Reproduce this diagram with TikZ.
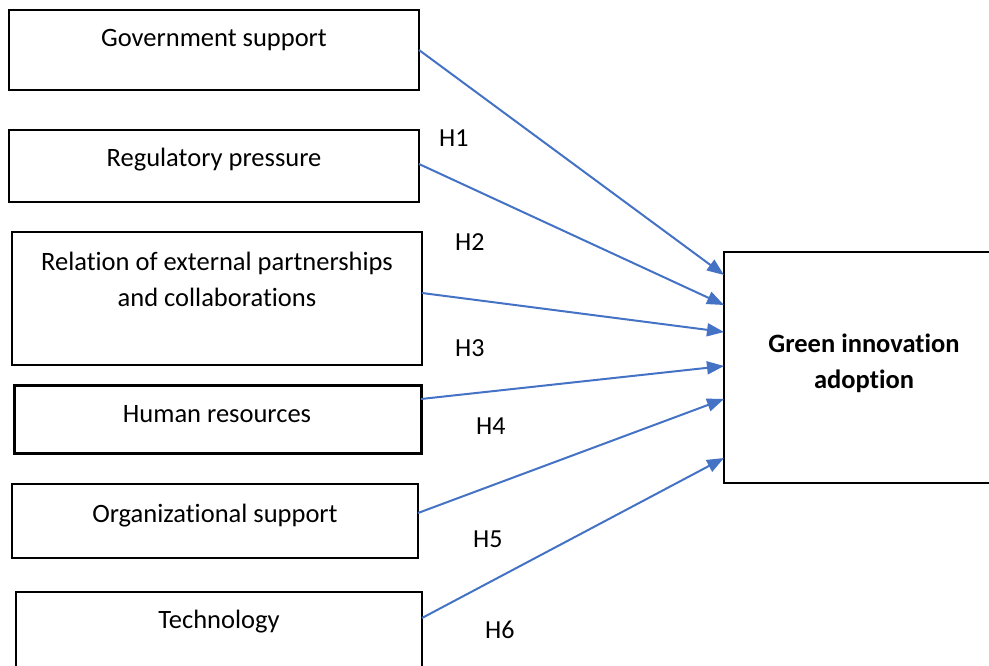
\documentclass[tikz,border=0pt]{standalone}
\usepackage{fontspec}
\setmainfont{Carlito}[Ligatures=NoCommon]
\usetikzlibrary{arrows.meta}
\definecolor{linkblue}{RGB}{68,114,196}
\begin{document}
\begin{tikzpicture}[x=1pt,y=-1pt,
  factor/.style={draw=black,line width=2pt,rectangle,inner sep=0pt,outer sep=0pt},
  caption/.style={anchor=base,font=\fontsize{26.5}{36}\selectfont,align=center,inner sep=0pt},
  hyp/.style={anchor=base west,font=\fontsize{26}{30}\selectfont,inner sep=0pt},
  link/.style={draw=linkblue,line width=2pt,-{Triangle[length=17pt,width=13pt]}}]
\useasboundingbox (0,0) rectangle (989,666);

% antecedent boxes
\node[factor,minimum width=410pt,minimum height=80pt] (gov) at (214,50) {};
\node[factor,minimum width=410pt,minimum height=72pt] (reg) at (214,166) {};
\node[factor,minimum width=410pt,minimum height=133pt] (rel) at (217,298.5) {};
\node[factor,line width=3pt,minimum width=407pt,minimum height=68pt] (hr) at (217.5,419) {};
\node[factor,minimum width=406pt,minimum height=74pt] (org) at (215,521) {};
\node[factor,minimum width=406pt,minimum height=88pt] (tech) at (219,636) {};

% outcome box
\node[factor,minimum width=271pt,minimum height=231pt] (gia) at (859.5,367.5) {};

% box captions (base anchor = baseline of the last line)
\node[caption] (govtxt) at (214,47) {Government support};
\node[caption] (regtxt) at (214,167) {Regulatory pressure};
\node[caption] (reltxt) at (217,306) {Relation of external partnerships\\and collaborations};
\node[caption] (hrtxt) at (217,422) {Human resources};
\node[caption] (orgtxt) at (215,522) {Organizational support};
\node[caption] (techtxt) at (219,628) {Technology};
\node[caption,font=\fontsize{26.5}{35.5}\selectfont\bfseries] (giatxt) at (864,388) {Green innovation\\adoption};

% hypothesised paths
\draw[link] (gov.east) -- ([yshift=92.5pt]gia.west);
\draw[link] ([yshift=2pt]reg.east) -- ([yshift=62.5pt]gia.west);
\draw[link] ([yshift=5.5pt]rel.east) -- ([yshift=35.5pt]gia.west);
\draw[link] ([yshift=20pt]hr.east) -- ([yshift=1.5pt]gia.west);
\draw[link] ([yshift=8pt]org.east) -- ([yshift=-31.5pt]gia.west);
\draw[link] ([yshift=18pt]tech.east) -- ([yshift=-90.5pt]gia.west);

% hypothesis labels
\node[hyp] (h1) at (439,147) {H1};
\node[hyp] (h2) at (455,251) {H2};
\node[hyp] (h3) at (455,356) {H3};
\node[hyp] (h4) at (476,434) {H4};
\node[hyp] (h5) at (473,547) {H5};
\node[hyp] (h6) at (485,638) {H6};
\end{tikzpicture}
\end{document}
